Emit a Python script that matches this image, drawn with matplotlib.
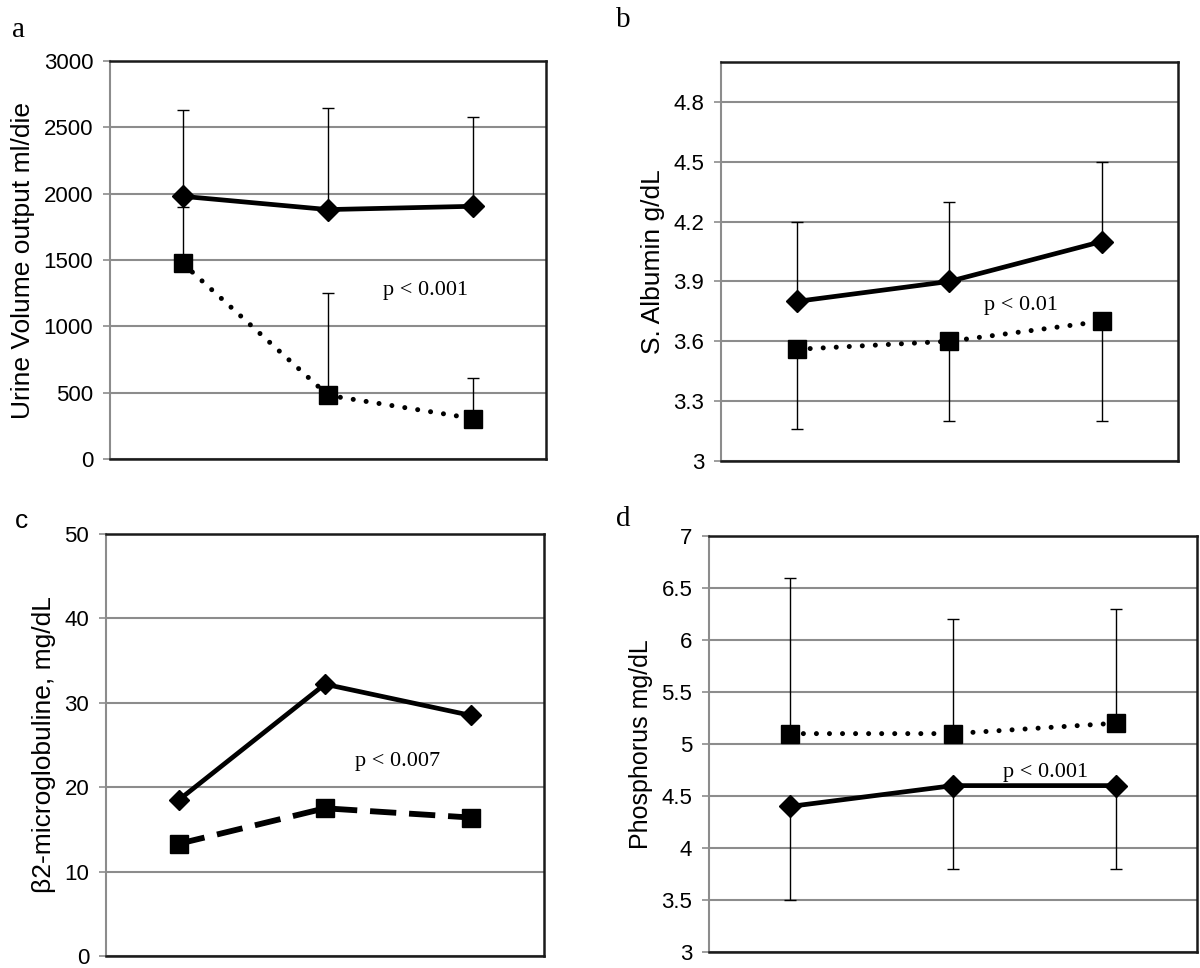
import matplotlib
matplotlib.use('Agg')
import matplotlib.pyplot as plt
import numpy as np

# three time points, no labels on the x axis
x = [0, 1, 2]

# a: urine volume output
urine_dia = [1980, 1880, 1905]
urine_dia_hi = [2630, 2648, 2578]
urine_sq = [1475, 480, 305]
urine_sq_hi = [1902, 1252, 614]

# b: serum albumin
alb_dia = [3.80, 3.90, 4.10]
alb_dia_hi = [4.20, 4.30, 4.50]
alb_sq = [3.56, 3.60, 3.70]
alb_sq_lo = [3.16, 3.20, 3.20]

# c: beta2-microglobuline
b2m_dia = [18.5, 32.2, 28.5]
b2m_sq = [13.3, 17.5, 16.4]

# d: phosphorus
ph_sq = [5.1, 5.1, 5.2]
ph_sq_hi = [6.6, 6.2, 6.3]
ph_dia = [4.4, 4.6, 4.6]
ph_dia_lo = [3.5, 3.8, 3.8]

GRID = '#8c8c8c'
SANS = 'Liberation Sans'
SERIF = 'Liberation Serif'
DOTS = (0, (0.01, 2.6))

fig = plt.figure(figsize=(12, 9.68), dpi=100)


def make_axes(rect, ylim, yticks, ylabel, ticklabels=None, labelsize=19):
    ax = fig.add_axes(rect)
    ax.set_xlim(-0.5, 2.5)
    ax.set_ylim(*ylim)
    ax.set_yticks(yticks)
    if ticklabels is not None:
        ax.set_yticklabels(ticklabels)
    ax.set_xticks([])
    for t in ax.get_yticklabels():
        t.set_fontfamily(SANS)
        t.set_fontsize(16)
    ax.tick_params(axis='y', direction='out', length=5, width=1.2, color=GRID, pad=7)
    ax.yaxis.grid(True, color=GRID, lw=1.5)
    ax.set_axisbelow(True)
    for side in ['top', 'right', 'bottom']:
        ax.spines[side].set_color('#1a1a1a')
        ax.spines[side].set_linewidth(1.8)
    ax.spines['left'].set_color(GRID)
    ax.spines['left'].set_linewidth(1.5)
    ax.set_ylabel(ylabel, fontfamily=SANS, fontsize=labelsize, labelpad=6)
    return ax


def err_up(ax, vals, hi):
    up = np.array(hi) - np.array(vals)
    ax.errorbar(x, vals, yerr=[np.zeros(3), up], fmt='none', ecolor='k',
                elinewidth=1, capsize=4, capthick=1, zorder=2)


def err_down(ax, vals, lo):
    dn = np.array(vals) - np.array(lo)
    ax.errorbar(x, vals, yerr=[dn, np.zeros(3)], fmt='none', ecolor='k',
                elinewidth=1, capsize=4, capthick=1, zorder=2)


def dia_line(ax, vals, ms=11):
    ax.plot(x, vals, color='k', lw=3.4, marker='D', markersize=ms,
            markerfacecolor='k', markeredgecolor='k', zorder=3)


def sq_line(ax, vals, ls=DOTS, lw=3.6):
    ax.plot(x, vals, color='k', lw=lw, ls=ls, marker='s', markersize=13,
            markerfacecolor='k', markeredgecolor='k', zorder=3,
            dash_capstyle='round' if ls is DOTS else 'butt')


# a
ax = make_axes([0.0917, 0.5258, 0.3633, 0.4112], (0, 3000), range(0, 3001, 500),
               'Urine Volume output ml/die')
err_up(ax, urine_dia, urine_dia_hi)
err_up(ax, urine_sq, urine_sq_hi)
dia_line(ax, urine_dia)
sq_line(ax, urine_sq)
ax.text(1.67, 1270, 'p < 0.001', fontfamily=SERIF, fontsize=16, ha='center', va='center')

# b
ax = make_axes([0.6008, 0.5238, 0.3808, 0.4122], (3, 5.0),
               [3, 3.3, 3.6, 3.9, 4.2, 4.5, 4.8], 'S. Albumin g/dL',
               ['3', '3.3', '3.6', '3.9', '4.2', '4.5', '4.8'])
err_up(ax, alb_dia, alb_dia_hi)
err_down(ax, alb_sq, alb_sq_lo)
dia_line(ax, alb_dia)
sq_line(ax, alb_sq)
ax.text(1.47, 3.78, 'p < 0.01', fontfamily=SERIF, fontsize=16, ha='center', va='center')

# c
ax = make_axes([0.0883, 0.0124, 0.365, 0.436], (0, 50), range(0, 51, 10),
               'β2-microglobuline, mg/dL')
dia_line(ax, b2m_dia, ms=10)
sq_line(ax, b2m_sq, ls=(0, (4.5, 2.2)), lw=4.2)
ax.text(1.5, 23.1, 'p < 0.007', fontfamily=SERIF, fontsize=16, ha='center', va='center')

# d
ax = make_axes([0.5908, 0.0165, 0.4067, 0.4298], (3, 7), np.arange(3, 7.01, 0.5),
               'Phosphorus mg/dL',
               ['3', '3.5', '4', '4.5', '5', '5.5', '6', '6.5', '7'], labelsize=18)
err_up(ax, ph_sq, ph_sq_hi)
err_down(ax, ph_dia, ph_dia_lo)
sq_line(ax, ph_sq)
dia_line(ax, ph_dia)
ax.text(1.57, 4.73, 'p < 0.001', fontfamily=SERIF, fontsize=16, ha='center', va='center')

# panel letters
fig.text(0.010, 0.962, 'a', fontfamily=SERIF, fontsize=21, va='baseline')
fig.text(0.513, 0.972, 'b', fontfamily=SERIF, fontsize=21, va='baseline')
fig.text(0.012, 0.455, 'c', fontfamily=SANS, fontsize=19, va='baseline')
fig.text(0.513, 0.457, 'd', fontfamily=SERIF, fontsize=21, va='baseline')

fig.savefig('out.png', dpi=100)
